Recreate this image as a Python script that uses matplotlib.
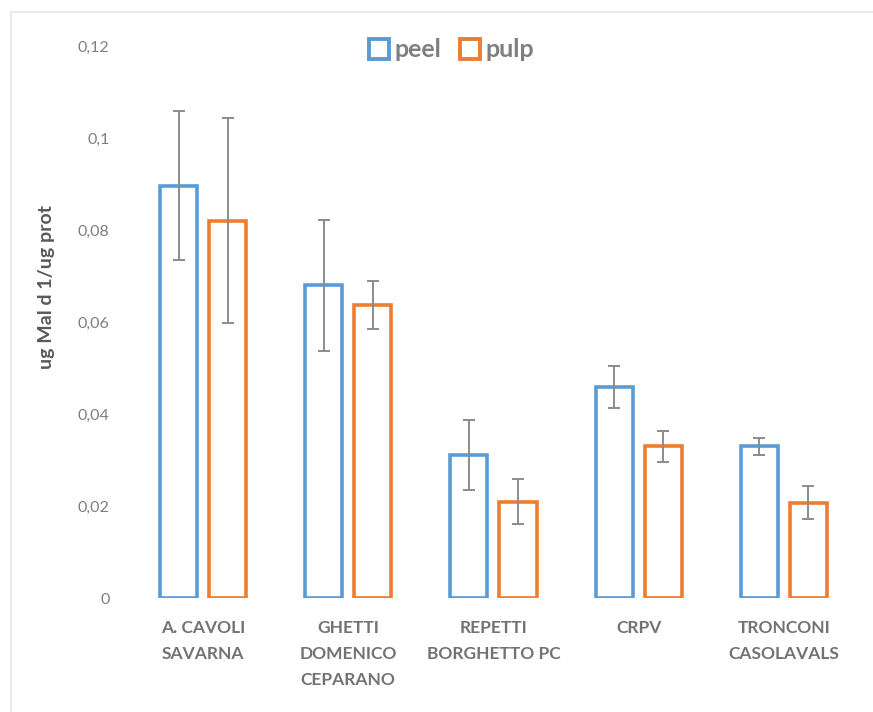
import numpy as np
import matplotlib.pyplot as plt
from matplotlib.lines import Line2D

# Mal d 1 content per sample, peel vs pulp
farms = ['A. CAVOLI\nSAVARNA', 'GHETTI\nDOMENICO\nCEPARANO', 'REPETTI\nBORGHETTO PC',
         'CRPV', 'TRONCONI\nCASOLAVALS']
peel = [0.0896, 0.0680, 0.0311, 0.0459, 0.0330]
peel_err = [0.0162, 0.0142, 0.0075, 0.0045, 0.0018]
pulp = [0.0820, 0.0637, 0.0209, 0.0330, 0.0207]
pulp_err = [0.0223, 0.0052, 0.0049, 0.0034, 0.0036]
yticks = [0, 0.02, 0.04, 0.06, 0.08, 0.1, 0.12]
ytick_labels = ['0', '0,02', '0,04', '0,06', '0,08', '0,1', '0,12']

blue = '#5B9BD5'
orange = '#ED7D31'
gray = '#7F7F7F'
font = 'Lato'

fig = plt.figure(figsize=(8.73, 7.12), dpi=100)
ax = fig.add_axes([0.1495, 0.160, 0.8315, 0.7754])

x = np.arange(len(farms))
w = 0.255
off = 0.169
ax.bar(x - off, peel, w, facecolor='white', edgecolor=blue, linewidth=2.6)
ax.bar(x + off, pulp, w, facecolor='white', edgecolor=orange, linewidth=2.6)
ax.errorbar(x - off, peel, yerr=peel_err, fmt='none', ecolor='#8c8c8c',
            elinewidth=1.4, capsize=4, capthick=1.4)
ax.errorbar(x + off, pulp, yerr=pulp_err, fmt='none', ecolor='#8c8c8c',
            elinewidth=1.4, capsize=4, capthick=1.4)

ax.set_xlim(-0.5, len(farms) - 0.5)
ax.set_ylim(0, 0.12)
ax.set_yticks(yticks)
ax.set_yticklabels(ytick_labels, family=font, fontsize=11.5, color=gray)
ax.set_xticks(x)
ax.set_xticklabels(farms, family=font, fontsize=12.5, color='#737373',
                   fontweight='bold', linespacing=1.75)
ax.tick_params(length=0)
ax.tick_params(axis='y', pad=15)
ax.tick_params(axis='x', pad=16)
for s in ax.spines.values():
    s.set_visible(False)

ax.set_ylabel('ug Mal d 1/ug prot', family=font, fontsize=14,
              fontweight='bold', color='#595959')
ax.yaxis.set_label_coords(-0.104, 0.563)

handles = [Line2D([], [], marker='s', linestyle='none', markersize=14,
                  markerfacecolor='white', markeredgecolor=blue, markeredgewidth=2.8),
           Line2D([], [], marker='s', linestyle='none', markersize=14,
                  markerfacecolor='white', markeredgecolor=orange, markeredgewidth=2.8)]
leg = fig.legend(handles, ['peel', 'pulp'], loc='center', bbox_to_anchor=(0.516, 0.930),
                 ncol=2, frameon=False, handlelength=1.0, handletextpad=0.1,
                 columnspacing=0.66,
                 prop={'family': font, 'size': 18, 'weight': 'bold'})
for t in leg.get_texts():
    t.set_color(gray)

# faint chart-area frame along the top and left
fig.add_artist(Line2D([0.0126, 1.0], [0.983, 0.983], color='#e6e6e6', lw=1.2))
fig.add_artist(Line2D([0.0126, 0.0126], [0.0, 0.983], color='#e6e6e6', lw=1.2))

fig.savefig('out.png', dpi=100)
